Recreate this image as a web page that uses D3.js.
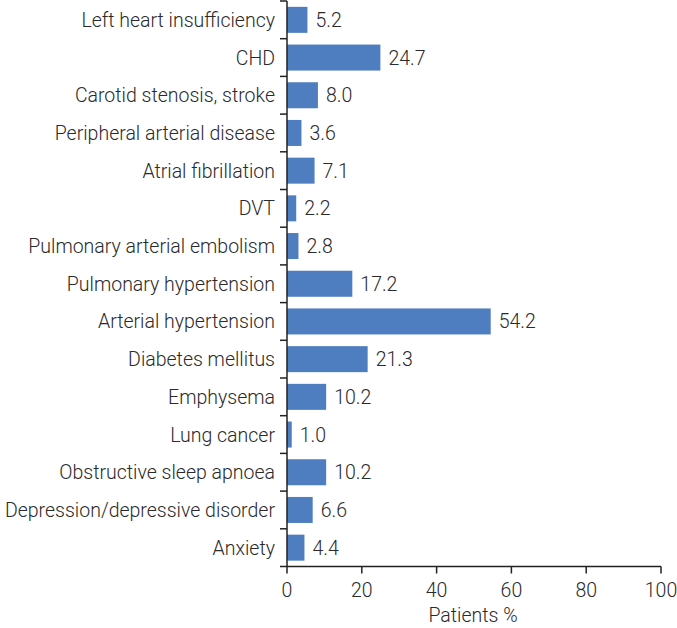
<!DOCTYPE html>
<html><head><meta charset="utf-8">
<script src="https://cdn.jsdelivr.net/npm/d3@7"></script>
<style>body{margin:0;background:#fff}svg{display:block}text{font-family:Roboto,"Noto Sans",sans-serif;fill:#2a2a2a;font-weight:300}</style>
</head><body><svg id="c" width="677" height="628"></svg>
<script>
const categories = ["Left heart insufficiency","CHD","Carotid stenosis, stroke","Peripheral arterial disease","Atrial fibrillation","DVT","Pulmonary arterial embolism","Pulmonary hypertension","Arterial hypertension","Diabetes mellitus","Emphysema","Lung cancer","Obstructive sleep apnoea","Depression/depressive disorder","Anxiety"];
const values = [5.2,24.7,8.0,3.6,7.1,2.2,2.8,17.2,54.2,21.3,10.2,1.0,10.2,6.6,4.4];
const xTicks = [0,20,40,60,80,100];
const xTitle = "Patients %";

(function(){
const svg = d3.select("#c");
const L = 287, R = 661, T = 1, B = 566.5, FS = 19.5;
const x = d3.scaleLinear().domain([0,100]).range([L,R]);
const y = d3.scaleBand().domain(categories).range([T,B]).paddingInner(0.31).paddingOuter(0.155);

svg.selectAll("rect.bar").data(values).enter().append("rect")
  .attr("x", x(0)).attr("y",(d,i)=>y(categories[i]))
  .attr("width", d=>x(d)-x(0)+1).attr("height", y.bandwidth())
  .attr("fill","#4e7ec0");

svg.selectAll("text.val").data(values).enter().append("text")
  .attr("x", d=>x(d)+9).attr("y",(d,i)=>y(categories[i])+y.bandwidth()/2)
  .attr("dy","0.36em").attr("font-size",FS).text(d=>d.toFixed(1));

const ya = svg.append("g");
ya.append("line").attr("x1",L).attr("x2",L).attr("y1",T).attr("y2",B).attr("stroke","#222").attr("stroke-width",1.5);
d3.range(categories.length+1).forEach(i=>{
  const yy = T + i*(B-T)/categories.length;
  ya.append("line").attr("x1",L-7).attr("x2",L).attr("y1",yy).attr("y2",yy).attr("stroke","#222").attr("stroke-width",1.5);
});
ya.selectAll("text").data(categories).enter().append("text")
  .attr("x",L-12).attr("y",d=>y(d)+y.bandwidth()/2).attr("dy","0.36em")
  .attr("text-anchor","end").attr("font-size",FS).text(d=>d);

const xa = svg.append("g");
xa.append("line").attr("x1",L).attr("x2",R).attr("y1",B).attr("y2",B).attr("stroke","#222").attr("stroke-width",1.5);
xTicks.forEach(t=>{
  xa.append("line").attr("x1",x(t)).attr("x2",x(t)).attr("y1",B).attr("y2",B+7).attr("stroke","#222").attr("stroke-width",1.5);
  xa.append("text").attr("x",x(t)).attr("y",B+23).attr("dy","0.36em").attr("text-anchor","middle").attr("font-size",FS).text(t);
});
svg.append("text").attr("x",(L+R)/2 - 1).attr("y",B+48).attr("dy","0.36em").attr("text-anchor","middle").attr("font-size",FS).text(xTitle);
})();
</script></body></html>
